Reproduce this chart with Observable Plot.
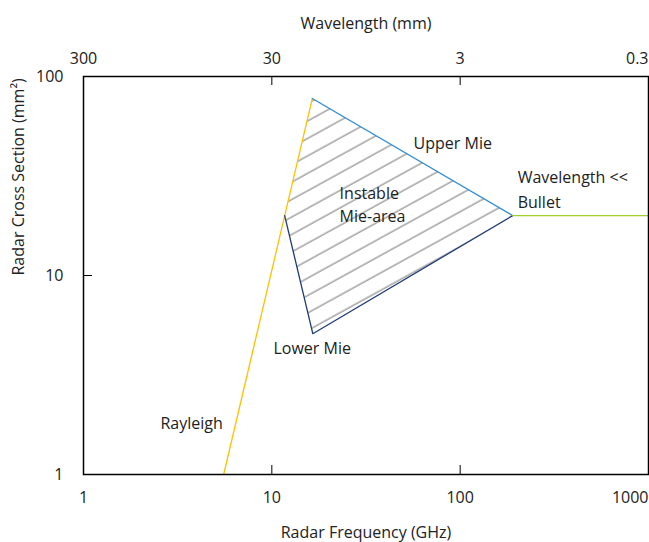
<!DOCTYPE html>
<html><head><meta charset="utf-8">
<script src="https://cdn.jsdelivr.net/npm/d3@7"></script>
<script src="https://cdn.jsdelivr.net/npm/@observablehq/plot@0.6"></script>
<style>body{margin:0;background:#fff}</style>
</head><body><div id="chart"></div>
<script>
// ---- data ----
const freqTicks = [1, 10, 100, 1000];
const wavelengthLabels = ["300", "30", "3", "0.3"];
const rcsTicks = [1, 10, 100];
const innerTicksX = [10, 100];
const innerTicksY = [10];

const rayleighFreq = [5.55, 16.4];
const rayleighRcs = [1, 77.5];
const upperMieFreq = [16.4, 190];
const upperMieRcs = [77.5, 20];
const lowerMieFreq = [11.7, 16.5, 190];
const lowerMieRcs = [20, 5.1, 20];
const bulletFreq = [190, 1000];
const bulletRcs = [20, 20];
const mieAreaFreq = [11.7, 16.4, 190, 16.5, 11.7];
const mieAreaRcs = [20, 77.5, 20, 5.1, 20];

const labelText = ["Upper Mie", "Instable", "Mie-area", "Wavelength <<", "Bullet", "Lower Mie", "Rayleigh"];
const labelFreq = [56.6, 22.9, 22.9, 202, 202, 10.2, 2.56];
const labelRcs = [46.1, 25.8, 19.8, 31.1, 23.3, 4.30, 1.80];

const xTitle = "Radar Frequency (GHz)";
const topTitle = "Wavelength (mm)";
const yTitle = "Radar Cross Section (mm²)";

// ---- build ----
const zip = (xs, ys) => xs.map((x, i) => ({x, y: ys[i]}));
const labels = labelText.map((t, i) => ({t, x: labelFreq[i], y: labelRcs[i]}));
const lastTick = freqTicks[freqTicks.length - 1];
const innerFreqTicks = freqTicks.filter(d => d !== lastTick);
const wl = d => wavelengthLabels[freqTicks.indexOf(d)];

const W = 649, H = 542, ML = 83, MR = 1, MT = 76, MB = 68;
const innerW = W - ML - MR, innerH = H - MT - MB;
const font = "'Open Sans', 'Noto Sans', sans-serif";
const txt = "#222";
const axisStyle = {tickSize: 0, label: null, fontSize: 16, fill: txt};

const svg = Plot.plot({
  width: W, height: H,
  marginLeft: ML, marginRight: MR, marginTop: MT, marginBottom: MB,
  style: {fontFamily: font, fontSize: "16px", color: txt, background: "#fff"},
  x: {type: "log", domain: [1, 1000]},
  y: {type: "log", domain: [1, 100]},
  marks: [
    Plot.line(zip(mieAreaFreq, mieAreaRcs), {x: "x", y: "y", fill: "url(#hatch)", stroke: "none"}),
    Plot.line(zip(rayleighFreq, rayleighRcs), {x: "x", y: "y", stroke: "#ffc000", strokeWidth: 1.3}),
    Plot.line(zip(lowerMieFreq, lowerMieRcs), {x: "x", y: "y", stroke: "#1f3c78", strokeWidth: 1.3}),
    Plot.line(zip(upperMieFreq, upperMieRcs), {x: "x", y: "y", stroke: "#2e8bd6", strokeWidth: 1.3}),
    Plot.line(zip(bulletFreq, bulletRcs), {x: "x", y: "y", stroke: "#a3cf2c", strokeWidth: 1.3}),
    Plot.tickX(innerTicksX, {x: d => d, insetTop: innerH - 9, stroke: "#000", strokeWidth: 1}),
    Plot.tickX(innerTicksX, {x: d => d, insetBottom: innerH - 9, stroke: "#000", strokeWidth: 1}),
    Plot.tickY(innerTicksY, {y: d => d, insetRight: innerW - 9, stroke: "#000", strokeWidth: 1}),
    Plot.frame({stroke: "#000", strokeWidth: 1.5}),
    Plot.axisX(innerFreqTicks, {...axisStyle, anchor: "bottom", tickPadding: 17, tickFormat: d => `${d}`}),
    Plot.axisX([lastTick], {...axisStyle, anchor: "bottom", tickPadding: 17, textAnchor: "end", tickFormat: d => `${d}`}),
    Plot.axisX(innerFreqTicks, {...axisStyle, anchor: "top", tickPadding: 13, tickFormat: wl}),
    Plot.axisX([lastTick], {...axisStyle, anchor: "top", tickPadding: 13, textAnchor: "end", tickFormat: wl}),
    Plot.axisY(rcsTicks, {...axisStyle, anchor: "left", tickPadding: 20, tickFormat: d => `${d}`}),
    Plot.text([xTitle], {frameAnchor: "bottom", dy: 63, text: d => d, fontSize: 16, fill: txt}),
    Plot.text([topTitle], {frameAnchor: "top", dy: -59, text: d => d, fontSize: 16, fill: txt}),
    Plot.text([yTitle], {frameAnchor: "left", dx: -65, rotate: -90, text: d => d, fontSize: 16, fill: txt}),
    Plot.text(labels, {x: "x", y: "y", text: "t", textAnchor: "start", lineAnchor: "middle", fontSize: 16, fill: txt})
  ]
});

const defs = d3.select(svg).insert("defs", ":first-child");
const pat = defs.append("pattern")
  .attr("id", "hatch")
  .attr("patternUnits", "userSpaceOnUse")
  .attr("width", 40).attr("height", 15.3)
  .attr("patternTransform", "rotate(-28.8)");
pat.append("line")
  .attr("x1", 0).attr("x2", 40).attr("y1", 8.7).attr("y2", 8.7)
  .attr("stroke", "#8c8c8c").attr("stroke-width", 1.1);

document.getElementById("chart").appendChild(svg);
</script>
</body></html>
